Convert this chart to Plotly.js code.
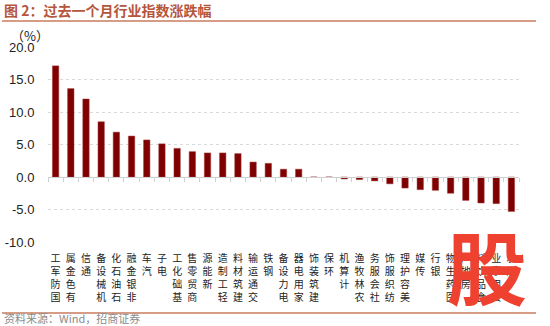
<!DOCTYPE html>
<html>
<head>
<meta charset="utf-8">
<script src="https://cdn.plot.ly/plotly-3.0.1.min.js"></script>
<style>html,body{margin:0;padding:0;background:#fff;}#chart{width:550px;height:326px;}</style>
</head>
<body>
<div id="chart"></div>
<script>
const categories = ["国防军工","有色金属","通信","机械设备","石油石化","非银金融","汽车","电子","基础化工","商贸零售","新能源","轻工制造","建筑材料","交通运输","钢铁","电力设备","家用电器","建筑装饰","环保","计算机","农林牧渔","社会服务","纺织服饰","美容护理","传媒","银行","医药生物","房地产","食品饮料","公用事业","煤炭"];
const changes = [17.1,13.6,12.0,8.5,6.9,6.3,5.7,5.1,4.4,3.9,3.7,3.7,3.6,2.3,2.1,1.2,1.2,0.0,0.0,-0.3,-0.4,-0.6,-1.05,-1.7,-1.95,-2.05,-2.5,-3.6,-4.0,-4.1,-5.3];
const yTicks = [-10,-5,0,5,10,15,20];
const yTickText = ["-10.0","-5.0","0.0","5.0","10.0","15.0","20.0"];
const titleText = "图 2：过去一个月行业指数涨跌幅";
const unitText = "（%）";
const sourceText = "资料来源：Wind，招商证券";
const watermarkText = "股";

const stacked = categories.map(c => Array.from(c).reverse().join("<br>"));

const W = 550, H = 326, L = 48, R = 31, T = 47, B = 84;
const pw = W - L - R, ph = H - T - B;
const px = x => (x - L) / pw;
const py = y => (H - B - y) / ph;

const cjk = "'Noto Sans CJK SC', 'Liberation Sans', sans-serif";
const num = "'Liberation Sans', 'Noto Sans CJK SC', Arial, sans-serif";

const trace = {
  type: "bar",
  x: categories,
  y: changes,
  marker: {color: "#7f0000", line: {color: "#a33a3a", width: 0.5}},
  hoverinfo: "x+y"
};

const layout = {
  width: W, height: H,
  margin: {l: L, r: R, t: T, b: B, pad: 0},
  paper_bgcolor: "#fff", plot_bgcolor: "#fff",
  showlegend: false,
  bargap: 0.58,
  title: {
    text: titleText,
    font: {family: cjk, size: 14, color: "#b5553c", weight: "bold"},
    x: 4 / W, xref: "container", xanchor: "left",
    y: 1 - 11 / H, yref: "container", yanchor: "middle"
  },
  xaxis: {
    type: "category",
    anchor: "free",
    position: 1 / 3,
    showline: true, linecolor: "#d0d0d0", linewidth: 1,
    ticks: "outside", tickson: "boundaries", ticklen: 4, tickcolor: "#d0d0d0",
    tickmode: "array", tickvals: categories, ticktext: stacked,
    tickangle: 0,
    ticklabelstandoff: 72,
    tickfont: {family: cjk, size: 10, color: "#222"},
    showgrid: false, zeroline: false, fixedrange: true
  },
  yaxis: {
    range: [-10, 20],
    tickmode: "array", tickvals: yTicks, ticktext: yTickText,
    tickfont: {family: num, size: 13, color: "#222"},
    ticks: "outside", ticklen: 10, tickcolor: "rgba(0,0,0,0)",
    showgrid: true, gridcolor: "#d9d9d9", gridwidth: 1, griddash: "3px,3px",
    zeroline: false, showline: false, fixedrange: true
  },
  shapes: [
    {type: "line", xref: "paper", yref: "paper", x0: px(2), x1: px(536), y0: py(21), y1: py(21), line: {color: "#c97b5d", width: 1.5}},
    {type: "line", xref: "paper", yref: "paper", x0: px(2), x1: px(536), y0: py(313), y1: py(313), line: {color: "#c97b5d", width: 1.5}}
  ],
  annotations: [
    {text: unitText, xref: "paper", yref: "paper", x: px(30), y: py(35), xanchor: "center", yanchor: "middle", showarrow: false, font: {family: cjk, size: 13, color: "#222"}},
    {text: sourceText, xref: "paper", yref: "paper", x: px(2), y: py(318), xanchor: "left", yanchor: "middle", showarrow: false, font: {family: cjk, size: 11, color: "#8c8c8c"}},
    {text: watermarkText, xref: "paper", yref: "paper", x: px(487), y: py(264), xanchor: "center", yanchor: "middle", showarrow: false, font: {family: cjk, size: 80, color: "#ee4130", weight: "bold"}}
  ]
};

Plotly.newPlot("chart", [trace], layout, {displayModeBar: false, staticPlot: true});
</script>
</body>
</html>
